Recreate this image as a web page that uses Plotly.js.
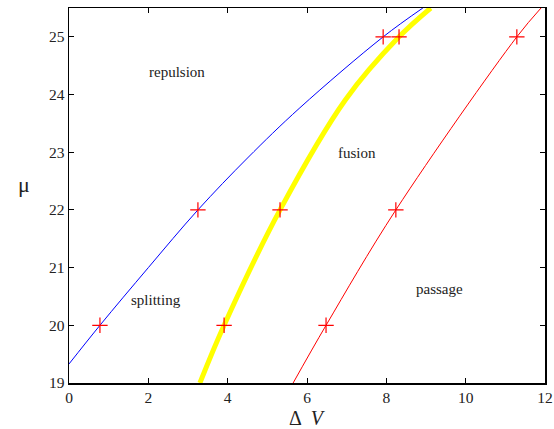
<!DOCTYPE html>
<html>
<head>
<meta charset="utf-8">
<script src="https://cdn.plot.ly/plotly-3.0.1.min.js"></script>
<style>
  html, body { margin: 0; padding: 0; background: #fff; }
  #plot { width: 554px; height: 429px; }
</style>
</head>
<body>
<div id="plot"></div>
<script>
// Boundary curves of the (dV, mu) phase diagram
const blueX = [0, 0.78, 2.0, 3.25, 4.5, 5.82, 7.92, 8.92];
const blueY = [19.33, 20, 21.0, 22, 22.9, 23.77, 25, 25.5];

const yellowX = [3.30, 3.91, 5.32, 6.97, 8.32, 9.12];
const yellowY = [19, 20, 22, 23.91, 25, 25.5];

const redX = [5.65, 6.48, 8.24, 11.29, 11.9];
const redY = [19, 20, 22, 25, 25.5];

// Computed points (red crosses)
const markX = [0.78, 3.25, 7.92, 3.91, 5.32, 8.32, 6.48, 8.24, 11.29];
const markY = [20, 22, 25, 20, 22, 25, 20, 22, 25];

// Region labels
const labelText = ['repulsion', 'fusion', 'splitting', 'passage'];
const labelX = [2.72, 7.26, 2.19, 9.35];
const labelY = [24.39, 22.99, 20.44, 20.63];

const serif = 'Liberation Serif, DejaVu Serif, Times, serif';

const data = [
    { x: blueX, y: blueY, mode: 'lines', line: { color: '#0000ff', width: 1, shape: 'spline' }, hoverinfo: 'skip' },
    { x: yellowX, y: yellowY, mode: 'lines', line: { color: '#ffff00', width: 5, shape: 'spline' }, hoverinfo: 'skip' },
    { x: redX, y: redY, mode: 'lines', line: { color: '#ff0000', width: 1, shape: 'spline' }, hoverinfo: 'skip' },
    {
        x: markX, y: markY, mode: 'markers',
        marker: { symbol: 'cross-thin', size: 11, line: { color: '#ff0000', width: 1.2 } }
    }
];

const annotations = labelText.map((t, i) => ({
    x: labelX[i], y: labelY[i], text: t, showarrow: false,
    font: { family: serif, size: 15, color: '#222' }
}));

annotations.push({
    xref: 'paper', yref: 'paper', x: -0.112, y: 0.53, text: 'μ', showarrow: false,
    font: { family: serif, size: 22, color: '#222' }
});
annotations.push({
    xref: 'paper', yref: 'paper', x: 0.5, y: -0.093, yanchor: 'middle', text: 'Δ  <i>V</i>', showarrow: false,
    font: { family: serif, size: 20, color: '#222' }
});

const axisCommon = {
    showgrid: false, zeroline: false,
    showline: true, linecolor: '#000', linewidth: 1.5, mirror: 'ticks',
    ticks: 'inside', ticklen: 5, tickcolor: '#000', tickwidth: 1,
    tickfont: { family: serif, size: 15.5, color: '#222' }
};

const layout = {
    width: 554, height: 429,
    margin: { l: 69, r: 9, t: 8, b: 46 },
    paper_bgcolor: '#fff', plot_bgcolor: '#fff',
    showlegend: false,
    font: { family: serif },
    xaxis: Object.assign({}, axisCommon, { range: [0, 12], tickvals: [0, 2, 4, 6, 8, 10, 12], ticklabelstandoff: 0 }),
    yaxis: Object.assign({}, axisCommon, { range: [19, 25.5], tickvals: [19, 20, 21, 22, 23, 24, 25] }),
    annotations: annotations
};

Plotly.newPlot('plot', data, layout, { displayModeBar: false, staticPlot: true });
</script>
</body>
</html>
